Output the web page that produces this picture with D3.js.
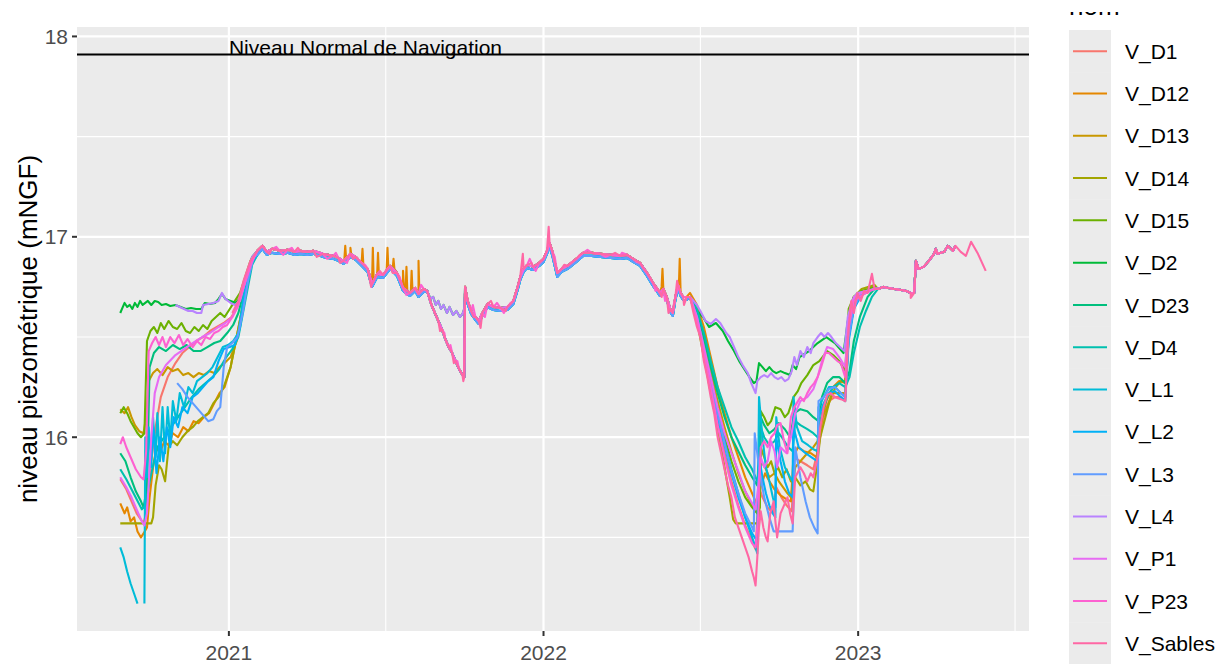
<!DOCTYPE html>
<html>
<head>
<meta charset="utf-8">
<script src="https://cdn.jsdelivr.net/npm/d3@7"></script>
<style>
  body { margin: 0; background: #fff; }
  svg { display: block; font-family: "Liberation Sans", Arial, sans-serif; }
</style>
</head>
<body>
<div id="chart"></div>
<script>
// noms et couleurs (palette ggplot par defaut)
const noms = ["V_D1","V_D12","V_D13","V_D14","V_D15","V_D2","V_D23","V_D4","V_L1","V_L2","V_L3","V_L4","V_P1","V_P23","V_Sables"];
const couleurs = ["#F8766D","#E58700","#C99800","#A3A500","#6BB100","#00BA38","#00BF7D","#00C0AF","#00BCD8","#00B0F6","#619CFF","#B983FF","#E76BF3","#FD61D1","#FF67A4"];

const niveauNavigation = 17.91;
const yTicks = [16, 17, 18];
const yMinor = [15.5, 16.5, 17.5];
const xTicks = ["2021-01-01","2022-01-01","2023-01-01"];
const xMinor = ["2021-07-02","2022-07-02","2023-07-02"];

// ---- debut 2020 (par piezometre)
const d1_2020 = [["2020-08-28",15.79],["2020-09-04",15.74],["2020-09-10",15.68],["2020-09-16",15.62],["2020-09-24",15.57],["2020-09-27",15.62],["2020-10-02",15.85],["2020-10-08",16.05],["2020-10-14",16.2],["2020-10-22",16.3],["2020-10-31",16.37],["2020-11-08",16.42],["2020-11-16",16.45],["2020-11-24",16.48],["2020-12-02",16.5],["2020-12-10",16.53],["2020-12-18",16.55],["2020-12-26",16.57],["2021-01-04",16.6],["2021-01-12",16.66],["2021-01-20",16.78],["2021-01-26",16.86]];
const d12_2020 = [["2020-08-28",15.67],["2020-09-02",15.62],["2020-09-05",15.65],["2020-09-09",15.58],["2020-09-13",15.6],["2020-09-17",15.53],["2020-09-21",15.5],["2020-09-24",15.52],["2020-09-28",15.55],["2020-10-01",15.7],["2020-10-05",15.85],["2020-10-09",15.95],["2020-10-13",15.92],["2020-10-18",15.98],["2020-10-23",15.96],["2020-10-28",16.02],["2020-11-03",16.0],["2020-11-09",16.05],["2020-11-15",16.03],["2020-11-21",16.08],["2020-11-27",16.07],["2020-12-03",16.1],["2020-12-09",16.12],["2020-12-15",16.17],["2020-12-21",16.22],["2020-12-27",16.25],["2021-01-03",16.35],["2021-01-10",16.5],["2021-01-18",16.68],["2021-01-26",16.86]];
const d13_2020 = [["2020-08-28",16.14],["2020-09-02",16.12],["2020-09-06",16.15],["2020-09-10",16.1],["2020-09-14",16.06],["2020-09-19",16.03],["2020-09-24",16.02],["2020-09-27",16.1],["2020-09-30",16.28],["2020-10-05",16.32],["2020-10-10",16.34],["2020-10-16",16.31],["2020-10-22",16.35],["2020-10-28",16.33],["2020-11-03",16.34],["2020-11-09",16.31],["2020-11-15",16.32],["2020-11-21",16.3],["2020-11-27",16.32],["2020-12-03",16.31],["2020-12-09",16.33],["2020-12-15",16.32],["2020-12-21",16.35],["2020-12-27",16.37],["2021-01-03",16.4],["2021-01-10",16.48],["2021-01-17",16.65],["2021-01-26",16.86]];
const d14_2020 = [["2020-08-28",15.57],["2020-10-03",15.57],["2020-10-05",15.6],["2020-10-08",15.76],["2020-10-12",15.86],["2020-10-15",15.84],["2020-10-19",15.78],["2020-10-23",15.95],["2020-10-28",15.98],["2020-11-02",15.96],["2020-11-08",16.0],["2020-11-14",16.03],["2020-11-20",16.05],["2020-11-26",16.08],["2020-12-02",16.1],["2020-12-08",16.12],["2020-12-14",16.17],["2020-12-20",16.2],["2020-12-26",16.25],["2021-01-03",16.35],["2021-01-10",16.5],["2021-01-17",16.65],["2021-01-26",16.85]];
const d15_2020 = [["2020-08-28",16.12],["2020-09-01",16.15],["2020-09-05",16.12],["2020-09-09",16.08],["2020-09-13",16.05],["2020-09-17",16.02],["2020-09-21",16.0],["2020-09-25",16.02],["2020-09-28",16.48],["2020-10-02",16.53],["2020-10-06",16.55],["2020-10-10",16.52],["2020-10-14",16.57],["2020-10-18",16.54],["2020-10-23",16.58],["2020-10-28",16.55],["2020-11-02",16.54],["2020-11-07",16.57],["2020-11-12",16.53],["2020-11-17",16.52],["2020-11-22",16.55],["2020-11-27",16.53],["2020-12-02",16.56],["2020-12-07",16.54],["2020-12-12",16.58],["2020-12-17",16.6],["2020-12-22",16.62],["2020-12-27",16.6],["2021-01-02",16.64],["2021-01-08",16.68],["2021-01-14",16.72],["2021-01-20",16.8],["2021-01-26",16.88]];
const d2_2020 = [["2020-08-28",16.62],["2020-08-30",16.64],["2020-09-02",16.67],["2020-09-05",16.65],["2020-09-08",16.66],["2020-09-11",16.64],["2020-09-14",16.67],["2020-09-17",16.65],["2020-09-20",16.68],["2020-09-23",16.66],["2020-09-26",16.67],["2020-09-29",16.68],["2020-10-03",16.66],["2020-10-07",16.68],["2020-10-11",16.675],["2020-10-15",16.66],["2020-10-20",16.665],["2020-10-25",16.655],["2020-10-31",16.66],["2020-11-06",16.65],["2020-11-12",16.64],["2020-11-18",16.645],["2020-11-24",16.64],["2020-11-30",16.64],["2020-12-04",16.67],["2020-12-10",16.665],["2020-12-16",16.67],["2020-12-20",16.69],["2020-12-24",16.715],["2020-12-28",16.69],["2021-01-03",16.68],["2021-01-09",16.67],["2021-01-15",16.7],["2021-01-21",16.8],["2021-01-28",16.9]];
const d23_2020 = [["2020-08-28",15.92],["2020-09-03",15.88],["2020-09-09",15.8],["2020-09-15",15.73],["2020-09-21",15.68],["2020-09-24",15.65],["2020-09-28",15.75],["2020-10-01",16.35],["2020-10-06",16.42],["2020-10-12",16.45],["2020-10-20",16.43],["2020-10-28",16.46],["2020-11-05",16.44],["2020-11-13",16.46],["2020-11-21",16.43],["2020-11-29",16.43],["2020-12-07",16.45],["2020-12-15",16.47],["2020-12-22",16.48],["2020-12-30",16.52],["2021-01-06",16.56],["2021-01-12",16.62],["2021-01-18",16.72],["2021-01-26",16.86]];
const d4_2020 = [["2020-08-28",15.84],["2020-09-04",15.79],["2020-09-10",15.74],["2020-09-16",15.69],["2020-09-22",15.64],["2020-09-26",15.66],["2020-10-02",15.8],["2020-10-10",15.95],["2020-10-18",16.0],["2020-10-26",16.05],["2020-11-03",16.1],["2020-11-11",16.15],["2020-11-19",16.2],["2020-11-27",16.24],["2020-12-05",16.27],["2020-12-13",16.3],["2020-12-21",16.34],["2020-12-29",16.4],["2021-01-05",16.44],["2021-01-12",16.5],["2021-01-20",16.68],["2021-01-28",16.86]];
const l1_2020 = [["2020-08-28",15.45],["2020-09-01",15.4],["2020-09-05",15.33],["2020-09-09",15.27],["2020-09-13",15.22],["2020-09-17",15.17],["2020-09-21",null],["2020-09-25",15.17],["2020-09-26",16.0],["2020-09-28",15.8],["2020-09-30",16.05],["2020-10-03",15.85],["2020-10-05",16.1],["2020-10-08",15.9],["2020-10-10",16.12],["2020-10-13",15.88],["2020-10-16",16.15],["2020-10-19",15.92],["2020-10-22",16.15],["2020-10-25",15.98],["2020-10-28",16.18],["2020-11-01",16.08],["2020-11-05",16.22],["2020-11-10",16.15],["2020-11-15",16.25],["2020-11-20",16.22],["2020-11-25",16.28],["2020-12-01",16.3],["2020-12-07",16.32],["2020-12-13",16.35],["2020-12-19",16.4],["2020-12-25",16.45],["2020-12-31",16.46],["2021-01-06",16.48],["2021-01-12",16.52],["2021-01-18",16.7],["2021-01-26",16.86]];
const l2_2020 = [["2020-10-02",15.85],["2020-10-05",16.05],["2020-10-09",15.82],["2020-10-13",16.0],["2020-10-17",15.88],["2020-10-21",16.05],["2020-10-25",15.95],["2020-10-29",16.1],["2020-11-03",16.05],["2020-11-08",16.15],["2020-11-14",16.12],["2020-11-20",16.2],["2020-11-26",16.22],["2020-12-02",16.25],["2020-12-08",16.28],["2020-12-14",16.3],["2020-12-20",16.38],["2020-12-26",16.44],["2021-01-02",16.45],["2021-01-08",16.46],["2021-01-14",16.55],["2021-01-20",16.72],["2021-01-28",16.88]];
const l3_2020 = [["2020-11-02",16.27],["2020-11-08",16.24],["2020-11-14",16.2],["2020-11-20",16.17],["2020-11-26",16.14],["2020-12-02",16.11],["2020-12-08",16.08],["2020-12-14",16.09],["2020-12-18",16.13],["2020-12-22",16.15],["2020-12-26",16.35],["2020-12-30",16.45],["2021-01-05",16.47],["2021-01-11",16.5],["2021-01-17",16.62],["2021-01-24",16.8],["2021-01-30",16.9]];
const l4_2020 = [["2020-10-31",16.66],["2020-11-05",16.65],["2020-11-10",16.64],["2020-11-15",16.63],["2020-11-20",16.63],["2020-11-25",16.62],["2020-11-30",16.62],["2020-12-02",16.66],["2020-12-08",16.665],["2020-12-14",16.67],["2020-12-20",16.68],["2020-12-24",16.72],["2020-12-28",16.69],["2021-01-03",16.67],["2021-01-08",16.66],["2021-01-14",16.68],["2021-01-20",16.78],["2021-01-28",16.9]];
const p1_2020 = [["2020-08-28",15.8],["2020-09-04",15.75],["2020-09-10",15.7],["2020-09-16",15.64],["2020-09-22",15.58],["2020-09-25",15.56],["2020-09-28",15.62],["2020-10-03",16.0],["2020-10-07",16.22],["2020-10-12",16.3],["2020-10-20",16.36],["2020-10-31",16.41],["2020-11-10",16.44],["2020-11-20",16.47],["2020-12-01",16.5],["2020-12-10",16.52],["2020-12-20",16.55],["2020-12-28",16.57],["2021-01-05",16.6],["2021-01-12",16.66],["2021-01-20",16.78],["2021-01-26",16.86]];
const p23_2020 = [["2020-08-28",15.965],["2020-08-31",16.0],["2020-09-04",15.95],["2020-09-09",15.9],["2020-09-15",15.84],["2020-09-21",15.8],["2020-09-24",15.79],["2020-09-27",15.93],["2020-09-30",16.43],["2020-10-04",16.47],["2020-10-08",16.5],["2020-10-12",16.46],["2020-10-16",16.5],["2020-10-20",16.45],["2020-10-25",16.5],["2020-10-30",16.47],["2020-11-04",16.51],["2020-11-09",16.46],["2020-11-14",16.49],["2020-11-20",16.45],["2020-11-25",16.48],["2020-11-30",16.46],["2020-12-05",16.5],["2020-12-10",16.49],["2020-12-15",16.52],["2020-12-20",16.53],["2020-12-25",16.55],["2020-12-30",16.56],["2021-01-05",16.6],["2021-01-11",16.65],["2021-01-16",16.72],["2021-01-22",16.8],["2021-01-28",16.88]];
const sables_2020 = [["2021-01-05",16.62],["2021-01-12",16.68],["2021-01-18",16.78],["2021-01-26",16.88]];

// ---- tronc commun (bord haut du faisceau et bord bas pour les L / D4 / D23)
const commun2021 = [["2021-02-03",16.93],["2021-02-09",16.955],["2021-02-14",16.925],["2021-02-20",16.94],["2021-03-01",16.93],["2021-03-10",16.935],["2021-03-18",16.925],["2021-03-25",16.93],["2021-04-02",16.925],["2021-04-09",16.93],["2021-04-20",16.915],["2021-05-02",16.905],["2021-05-08",16.895],["2021-05-14",16.88],["2021-05-22",16.915],["2021-05-28",16.9],["2021-06-04",16.87],["2021-06-11",16.84],["2021-06-16",16.765],["2021-06-22",16.815],["2021-06-29",16.81],["2021-07-07",16.855],["2021-07-15",16.82],["2021-07-22",16.745],["2021-07-30",16.72],["2021-08-05",16.745],["2021-08-09",16.715],["2021-08-15",16.74]];
const commun2021Bas = [["2021-02-03",16.91],["2021-02-09",16.94],["2021-02-14",16.91],["2021-02-20",16.92],["2021-03-01",16.915],["2021-03-10",16.92],["2021-03-18",16.91],["2021-03-25",16.915],["2021-04-02",16.91],["2021-04-09",16.915],["2021-04-20",16.9],["2021-05-02",16.89],["2021-05-08",16.88],["2021-05-14",16.865],["2021-05-22",16.9],["2021-05-28",16.885],["2021-06-04",16.855],["2021-06-11",16.825],["2021-06-16",16.75],["2021-06-22",16.8],["2021-06-29",16.795],["2021-07-07",16.84],["2021-07-15",16.805],["2021-07-22",16.73],["2021-07-30",16.705],["2021-08-05",16.73],["2021-08-09",16.7],["2021-08-15",16.725]];
const creux2021 = [["2021-08-19",16.73],["2021-08-24",16.66],["2021-08-28",16.62],["2021-09-01",16.58],["2021-09-05",16.54],["2021-09-09",16.49],["2021-09-13",16.45],["2021-09-17",16.42],["2021-09-21",16.38],["2021-09-25",16.34],["2021-09-29",16.31],["2021-10-01",16.3]];
const creux2021Haut = [["2021-08-19",16.73],["2021-08-23",16.69],["2021-08-26",16.7],["2021-08-29",16.66],["2021-09-01",16.68],["2021-09-04",16.64],["2021-09-07",16.66],["2021-09-11",16.62],["2021-09-14",16.65],["2021-09-18",16.61],["2021-09-22",16.63],["2021-09-26",16.6],["2021-09-29",16.615],["2021-10-01",16.64]];
const commun2022 = [["2021-10-02",16.75],["2021-10-05",16.68],["2021-10-09",16.63],["2021-10-14",16.6],["2021-10-18",16.58],["2021-10-22",16.62],["2021-10-28",16.665],["2021-11-04",16.65],["2021-11-12",16.645],["2021-11-20",16.65],["2021-11-27",16.68],["2021-12-02",16.75],["2021-12-05",16.8],["2021-12-09",16.84],["2021-12-13",16.86],["2021-12-20",16.85],["2021-12-27",16.87],["2022-01-01",16.89],["2022-01-05",16.93],["2022-01-08",16.97],["2022-01-11",16.93],["2022-01-17",16.82],["2022-01-22",16.84],["2022-01-29",16.855],["2022-02-08",16.89],["2022-02-16",16.92],["2022-02-26",16.92],["2022-03-08",16.915],["2022-03-20",16.91],["2022-03-31",16.905],["2022-04-08",16.91],["2022-04-15",16.89],["2022-04-23",16.87],["2022-05-01",16.82],["2022-05-08",16.77],["2022-05-13",16.74],["2022-05-16",16.72],["2022-05-20",16.74],["2022-05-24",16.7],["2022-05-28",16.64],["2022-05-31",16.62],["2022-06-03",16.7],["2022-06-06",16.76],["2022-06-09",16.72],["2022-06-12",16.7],["2022-06-16",16.7]];
const commun2022Bas = [["2021-10-02",16.73],["2021-10-05",16.665],["2021-10-09",16.615],["2021-10-14",16.585],["2021-10-18",16.565],["2021-10-22",16.605],["2021-10-28",16.65],["2021-11-04",16.635],["2021-11-12",16.63],["2021-11-20",16.635],["2021-11-27",16.665],["2021-12-02",16.735],["2021-12-05",16.785],["2021-12-09",16.825],["2021-12-13",16.845],["2021-12-20",16.835],["2021-12-27",16.855],["2022-01-01",16.875],["2022-01-05",16.915],["2022-01-08",16.95],["2022-01-11",16.91],["2022-01-17",16.8],["2022-01-22",16.825],["2022-01-29",16.84],["2022-02-08",16.875],["2022-02-16",16.905],["2022-02-26",16.905],["2022-03-08",16.9],["2022-03-20",16.895],["2022-03-31",16.89],["2022-04-08",16.895],["2022-04-15",16.875],["2022-04-23",16.855],["2022-05-01",16.805],["2022-05-08",16.755],["2022-05-13",16.725],["2022-05-16",16.705],["2022-05-20",16.725],["2022-05-24",16.685],["2022-05-28",16.625],["2022-05-31",16.605],["2022-06-03",16.685],["2022-06-06",16.745],["2022-06-09",16.705],["2022-06-12",16.685],["2022-06-16",16.685]];
const commun2023 = [["2023-01-24",16.74],["2023-01-30",16.75],["2023-02-05",16.745],["2023-02-12",16.74],["2023-02-20",16.735],["2023-02-26",16.73],["2023-03-03",16.72],["2023-03-07",16.72],["2023-03-09",16.88],["2023-03-12",16.84],["2023-03-18",16.85],["2023-03-24",16.88],["2023-03-30",16.915],["2023-04-01",16.94],["2023-04-03",16.915],["2023-04-11",16.925],["2023-04-15",16.955],["2023-04-21",16.93],["2023-04-24",16.955]];

// ---- pics V_D12, bruit des courbes roses
const d12_pics = [["2021-05-15",16.89],["2021-05-16",16.955],["2021-05-17",16.89],["2021-05-21",16.91],["2021-05-22",16.945],["2021-05-23",16.91],["2021-06-05",16.94],["2021-06-06",16.86],["2021-06-17",16.945],["2021-06-18",16.78],["2021-06-23",16.92],["2021-06-24",16.81],["2021-07-03",16.83],["2021-07-04",16.945],["2021-07-05",16.84],["2021-07-10",16.84],["2021-07-11",16.89],["2021-07-12",16.84],["2021-07-21",16.75],["2021-07-22",16.83],["2021-07-23",16.75],["2021-07-25",16.73],["2021-07-26",16.85],["2021-07-27",16.73],["2021-07-31",16.72],["2021-08-01",16.83],["2021-08-02",16.73],["2021-08-08",16.72],["2021-08-09",16.88],["2021-08-10",16.72],["2022-05-18",16.75],["2022-05-19",16.84],["2022-05-20",16.74],["2022-06-07",16.75],["2022-06-08",16.89],["2022-06-09",16.73]];
const p23_bruit = [["2021-02-25",16.95],["2021-03-05",16.91],["2021-03-15",16.945],["2021-04-25",16.89],["2021-05-05",16.92],["2021-05-18",16.87],["2021-06-08",16.86],["2021-06-19",16.79],["2021-07-02",16.83],["2021-07-18",16.8],["2021-07-26",16.71],["2021-08-12",16.76],["2021-09-08",16.52],["2021-09-15",16.46],["2021-09-23",16.38],["2021-10-11",16.66],["2021-10-25",16.6],["2021-11-08",16.67],["2021-11-16",16.62],["2021-11-24",16.67],["2021-12-16",16.89],["2021-12-23",16.83],["2022-01-14",16.9],["2022-02-02",16.87],["2022-02-21",16.935],["2022-03-14",16.9],["2022-04-02",16.92],["2022-04-19",16.875],["2022-05-04",16.8],["2022-05-11",16.73],["2022-05-22",16.68],["2022-06-01",16.66]];
const sables_extra = [["2021-02-17",16.915],["2021-03-22",16.945],["2021-04-13",16.9],["2021-05-10",16.87],["2021-05-25",16.89],["2021-06-15",16.75],["2021-06-25",16.83],["2021-07-10",16.82],["2021-08-02",16.73],["2021-09-03",16.53],["2021-09-19",16.37],["2021-09-30",16.28],["2021-10-12",16.6],["2021-10-20",16.545],["2021-11-01",16.68],["2021-11-18",16.63],["2021-12-08",16.915],["2021-12-18",16.87],["2022-01-07",17.05],["2022-01-25",16.86],["2022-02-12",16.91],["2022-03-25",16.92],["2022-04-27",16.84],["2022-05-18",16.7],["2022-05-26",16.62],["2022-06-05",16.78],["2022-06-13",16.66],["2023-01-17",16.815],["2023-03-03",16.695]];
const sables_2023 = [["2023-04-30",16.925],["2023-05-06",16.905],["2023-05-12",16.975],["2023-05-20",16.915],["2023-05-29",16.83]];

// ---- secheresse 2022
const d1_2022 = [["2022-06-20",16.7],["2022-06-28",16.58],["2022-07-06",16.42],["2022-07-14",16.24],["2022-07-22",16.07],["2022-07-30",15.92],["2022-08-07",15.78],["2022-08-15",15.66],["2022-08-23",15.56],["2022-08-31",15.48],["2022-09-04",15.44],["2022-09-08",15.75],["2022-09-12",15.7],["2022-09-18",15.65],["2022-09-24",15.62],["2022-09-28",15.75],["2022-10-04",15.7],["2022-10-10",15.66],["2022-10-16",15.63],["2022-10-19",15.9],["2022-10-26",15.88],["2022-11-03",15.86],["2022-11-10",15.84],["2022-11-16",15.95],["2022-11-22",16.1],["2022-11-28",16.18],["2022-12-05",16.2],["2022-12-12",16.2],["2022-12-17",16.18],["2022-12-21",16.52],["2022-12-27",16.66],["2023-01-05",16.72],["2023-01-20",16.74]];
const d12_2022 = [["2022-06-20",16.72],["2022-06-28",16.66],["2022-07-06",16.55],["2022-07-14",16.4],["2022-07-22",16.25],["2022-07-30",16.12],["2022-08-07",16.0],["2022-08-15",15.9],["2022-08-23",15.8],["2022-08-31",15.72],["2022-09-06",15.66],["2022-09-10",15.75],["2022-09-15",15.82],["2022-09-20",15.78],["2022-09-26",15.74],["2022-10-03",15.71],["2022-10-10",15.69],["2022-10-15",15.68],["2022-10-18",15.9],["2022-10-23",15.95],["2022-10-30",15.93],["2022-11-07",15.92],["2022-11-14",15.9],["2022-11-18",16.05],["2022-11-25",16.18],["2022-12-03",16.25],["2022-12-10",16.28],["2022-12-17",16.27],["2022-12-21",16.55],["2022-12-27",16.68],["2023-01-05",16.72],["2023-01-20",16.75]];
const d13_2022 = [["2022-06-20",16.7],["2022-06-28",16.62],["2022-07-06",16.48],["2022-07-14",16.33],["2022-07-22",16.18],["2022-07-30",16.05],["2022-08-07",15.93],["2022-08-15",15.82],["2022-08-23",15.73],["2022-08-31",15.66],["2022-09-06",15.62],["2022-09-10",15.88],["2022-09-15",15.85],["2022-09-20",15.8],["2022-09-26",15.82],["2022-10-01",15.78],["2022-10-06",15.75],["2022-10-11",15.72],["2022-10-15",15.7],["2022-10-20",15.85],["2022-10-26",15.88],["2022-11-03",15.92],["2022-11-10",15.95],["2022-11-15",15.98],["2022-11-20",16.1],["2022-11-26",16.15],["2022-12-03",16.22],["2022-12-10",16.22],["2022-12-17",16.22],["2022-12-21",16.5],["2022-12-27",16.65],["2023-01-05",16.72],["2023-01-20",16.75]];
const d14_2022 = [["2022-06-20",16.7],["2022-06-28",16.58],["2022-07-06",16.4],["2022-07-14",16.22],["2022-07-22",16.05],["2022-07-30",15.85],["2022-08-05",15.7],["2022-08-09",15.59],["2022-08-12",15.57],["2022-09-08",15.57],["2022-09-10",15.95],["2022-09-14",15.9],["2022-09-18",15.85],["2022-09-22",15.88],["2022-09-26",15.82],["2022-09-30",15.85],["2022-10-05",15.8],["2022-10-10",15.84],["2022-10-15",15.78],["2022-10-20",15.8],["2022-10-26",15.76],["2022-11-01",15.78],["2022-11-06",15.74],["2022-11-10",15.73],["2022-11-14",15.85],["2022-11-18",16.0],["2022-11-24",16.1],["2022-11-30",16.2],["2022-12-06",16.25],["2022-12-12",16.28],["2022-12-17",16.28],["2022-12-21",16.6],["2022-12-27",16.7],["2023-01-05",16.74],["2023-01-20",16.76]];
const d15_2022 = [["2022-06-20",16.7],["2022-06-28",16.6],["2022-07-06",16.45],["2022-07-14",16.3],["2022-07-22",16.15],["2022-07-30",16.0],["2022-08-07",15.88],["2022-08-15",15.78],["2022-08-23",15.7],["2022-08-31",15.65],["2022-09-06",15.62],["2022-09-09",15.65],["2022-09-10",16.13],["2022-09-14",16.1],["2022-09-18",16.06],["2022-09-22",16.08],["2022-09-27",16.15],["2022-10-03",16.14],["2022-10-08",16.1],["2022-10-12",16.12],["2022-10-18",16.2],["2022-10-23",16.23],["2022-10-27",16.27],["2022-11-03",16.31],["2022-11-10",16.36],["2022-11-17",16.38],["2022-11-26",16.43],["2022-12-03",16.41],["2022-12-10",16.38],["2022-12-17",16.33],["2022-12-21",16.64],["2022-12-27",16.7],["2023-01-05",16.73],["2023-01-20",16.75]];
const d2_2022 = [["2022-06-20",16.69],["2022-06-28",16.63],["2022-07-05",16.6],["2022-07-12",16.55],["2022-07-20",16.57],["2022-07-28",16.53],["2022-08-03",16.48],["2022-08-10",16.43],["2022-08-16",16.38],["2022-08-22",16.34],["2022-08-28",16.3],["2022-09-02",16.27],["2022-09-05",16.28],["2022-09-08",16.37],["2022-09-12",16.35],["2022-09-16",16.33],["2022-09-20",16.35],["2022-09-24",16.33],["2022-09-28",16.32],["2022-10-03",16.33],["2022-10-08",16.32],["2022-10-14",16.31],["2022-10-17",16.36],["2022-10-21",16.34],["2022-10-25",16.4],["2022-11-05",16.43],["2022-11-15",16.47],["2022-11-25",16.5],["2022-12-05",16.47],["2022-12-15",16.42],["2022-12-20",16.58],["2022-12-27",16.7],["2023-01-10",16.73],["2023-01-20",16.74]];
const d23_2022 = [["2022-06-20",16.7],["2022-06-28",16.63],["2022-07-06",16.5],["2022-07-14",16.35],["2022-07-22",16.22],["2022-07-30",16.1],["2022-08-07",16.0],["2022-08-15",15.93],["2022-08-23",15.86],["2022-08-31",15.8],["2022-09-06",15.76],["2022-09-10",16.1],["2022-09-14",16.06],["2022-09-20",16.02],["2022-09-26",16.04],["2022-10-01",16.07],["2022-10-08",16.04],["2022-10-14",16.0],["2022-10-19",16.12],["2022-10-26",16.14],["2022-11-03",16.13],["2022-11-10",16.1],["2022-11-16",16.08],["2022-11-20",16.2],["2022-11-26",16.27],["2022-12-03",16.3],["2022-12-10",16.3],["2022-12-17",16.27],["2022-12-22",16.33],["2022-12-27",16.48],["2023-01-03",16.6],["2023-01-12",16.7],["2023-01-20",16.74]];
const d4_2022 = [["2022-06-20",16.7],["2022-06-28",16.64],["2022-07-06",16.52],["2022-07-14",16.38],["2022-07-22",16.25],["2022-07-30",16.15],["2022-08-07",16.05],["2022-08-15",15.98],["2022-08-23",15.9],["2022-08-31",15.84],["2022-09-06",15.78],["2022-09-09",15.76],["2022-09-10",16.05],["2022-09-14",16.0],["2022-09-20",15.96],["2022-09-26",15.98],["2022-10-01",16.02],["2022-10-06",15.99],["2022-10-12",15.95],["2022-10-17",15.93],["2022-10-20",16.08],["2022-10-26",16.06],["2022-11-03",16.04],["2022-11-10",16.02],["2022-11-15",16.0],["2022-11-20",16.12],["2022-11-26",16.2],["2022-12-03",16.25],["2022-12-10",16.27],["2022-12-17",16.25],["2022-12-22",16.3],["2022-12-27",16.42],["2023-01-03",16.55],["2023-01-10",16.63],["2023-01-17",16.7],["2023-01-24",16.74]];
const l1_2022 = [["2022-06-20",16.7],["2022-06-28",16.6],["2022-07-06",16.45],["2022-07-14",16.28],["2022-07-22",16.12],["2022-07-30",15.98],["2022-08-07",15.84],["2022-08-15",15.72],["2022-08-23",15.6],["2022-08-31",15.5],["2022-09-04",15.45],["2022-09-06",15.42],["2022-09-08",16.2],["2022-09-12",16.0],["2022-09-16",15.85],["2022-09-20",15.78],["2022-09-24",15.7],["2022-09-27",15.65],["2022-09-28",16.1],["2022-10-02",15.95],["2022-10-08",15.85],["2022-10-14",15.8],["2022-10-17",15.78],["2022-10-18",16.2],["2022-10-22",16.05],["2022-10-28",15.98],["2022-11-04",15.96],["2022-11-10",15.94],["2022-11-15",15.93],["2022-11-16",16.15],["2022-11-22",16.2],["2022-11-28",16.25],["2022-12-05",16.25],["2022-12-12",16.22],["2022-12-17",16.2],["2022-12-21",16.5],["2022-12-27",16.65],["2023-01-05",16.72],["2023-01-20",16.74]];
const l2_2022 = [["2022-06-20",16.7],["2022-06-28",16.59],["2022-07-06",16.43],["2022-07-14",16.27],["2022-07-22",16.1],["2022-07-30",15.96],["2022-08-07",15.82],["2022-08-15",15.7],["2022-08-23",15.6],["2022-08-31",15.52],["2022-09-06",15.48],["2022-09-08",15.9],["2022-09-12",15.8],["2022-09-16",15.72],["2022-09-20",15.66],["2022-09-24",15.62],["2022-09-27",15.6],["2022-09-28",16.0],["2022-10-03",15.88],["2022-10-08",15.78],["2022-10-13",15.72],["2022-10-17",15.7],["2022-10-18",16.05],["2022-10-24",15.95],["2022-11-01",15.92],["2022-11-08",15.9],["2022-11-15",15.88],["2022-11-16",16.1],["2022-11-22",16.17],["2022-11-28",16.22],["2022-12-05",16.23],["2022-12-12",16.2],["2022-12-17",16.18],["2022-12-21",16.48],["2022-12-27",16.64],["2023-01-05",16.71],["2023-01-20",16.74]];
const l3_2022 = [["2022-06-20",16.7],["2022-06-28",16.6],["2022-07-06",16.44],["2022-07-14",16.28],["2022-07-22",16.12],["2022-07-30",15.97],["2022-08-07",15.83],["2022-08-15",15.72],["2022-08-23",15.62],["2022-08-31",15.55],["2022-09-02",15.53],["2022-09-03",16.02],["2022-09-08",15.85],["2022-09-14",15.7],["2022-09-20",15.6],["2022-09-25",15.53],["2022-10-17",15.53],["2022-10-20",15.95],["2022-10-26",15.8],["2022-11-01",15.68],["2022-11-06",15.6],["2022-11-11",15.55],["2022-11-15",15.52],["2022-11-16",16.18],["2022-11-22",16.2],["2022-11-28",16.24],["2022-12-05",16.25],["2022-12-12",16.22],["2022-12-17",16.2],["2022-12-21",16.5],["2022-12-27",16.65],["2023-01-05",16.72],["2023-01-20",16.74]];
const l4_2022 = [["2022-06-20",16.7],["2022-06-28",16.66],["2022-07-02",16.63],["2022-07-08",16.58],["2022-07-14",16.565],["2022-07-20",16.59],["2022-07-25",16.57],["2022-08-01",16.52],["2022-08-05",16.5],["2022-08-10",16.45],["2022-08-15",16.4],["2022-08-20",16.36],["2022-08-26",16.32],["2022-08-30",16.27],["2022-09-02",16.24],["2022-09-04",16.22],["2022-09-06",16.28],["2022-09-10",16.3],["2022-09-14",16.31],["2022-09-18",16.3],["2022-09-22",16.32],["2022-09-26",16.3],["2022-09-30",16.29],["2022-10-04",16.3],["2022-10-08",16.28],["2022-10-12",16.29],["2022-10-16",16.33],["2022-10-19",16.4],["2022-10-22",16.36],["2022-10-26",16.43],["2022-10-30",16.4],["2022-11-03",16.45],["2022-11-07",16.42],["2022-11-10",16.47],["2022-11-15",16.5],["2022-11-19",16.52],["2022-11-23",16.5],["2022-11-27",16.52],["2022-12-01",16.5],["2022-12-06",16.47],["2022-12-11",16.45],["2022-12-16",16.43],["2022-12-20",16.6],["2022-12-25",16.68],["2022-12-31",16.72],["2023-01-10",16.73],["2023-01-20",16.74]];
const p1_2022 = [["2022-06-20",16.7],["2022-06-28",16.6],["2022-07-06",16.45],["2022-07-14",16.3],["2022-07-22",16.15],["2022-07-30",16.02],["2022-08-07",15.92],["2022-08-15",15.83],["2022-08-23",15.73],["2022-08-31",15.67],["2022-09-04",15.64],["2022-09-07",15.75],["2022-09-10",15.9],["2022-09-14",15.85],["2022-09-18",15.88],["2022-09-22",15.98],["2022-09-26",15.93],["2022-09-29",15.85],["2022-10-03",15.95],["2022-10-10",15.92],["2022-10-15",16.0],["2022-10-20",16.12],["2022-10-26",16.18],["2022-11-03",16.2],["2022-11-10",16.24],["2022-11-15",16.3],["2022-11-20",16.38],["2022-11-26",16.45],["2022-12-03",16.44],["2022-12-10",16.4],["2022-12-17",16.35],["2022-12-21",16.58],["2022-12-27",16.7],["2023-01-05",16.72],["2023-01-20",16.74]];
const p23_2022 = [["2022-06-20",16.7],["2022-06-28",16.58],["2022-07-06",16.42],["2022-07-14",16.25],["2022-07-22",16.06],["2022-07-30",15.9],["2022-08-07",15.76],["2022-08-15",15.65],["2022-08-23",15.55],["2022-08-31",15.47],["2022-09-04",15.45],["2022-09-07",15.6],["2022-09-10",15.95],["2022-09-14",15.98],["2022-09-18",15.95],["2022-09-22",16.0],["2022-09-26",16.02],["2022-09-29",16.06],["2022-10-03",16.07],["2022-10-07",15.98],["2022-10-11",15.92],["2022-10-15",16.1],["2022-10-19",16.15],["2022-10-26",16.2],["2022-10-30",16.18],["2022-11-03",16.22],["2022-11-07",16.25],["2022-11-11",16.27],["2022-11-15",16.3],["2022-11-19",16.35],["2022-11-24",16.42],["2022-11-28",16.42],["2022-12-03",16.4],["2022-12-08",16.38],["2022-12-12",16.37],["2022-12-17",16.3],["2022-12-21",16.55],["2022-12-27",16.68],["2023-01-03",16.7],["2023-01-10",16.72],["2023-01-20",16.74]];
const sables_2022 = [["2022-06-20",16.7],["2022-06-24",16.62],["2022-06-28",16.55],["2022-07-02",16.5],["2022-07-06",16.38],["2022-07-10",16.3],["2022-07-14",16.2],["2022-07-18",16.12],["2022-07-22",16.0],["2022-07-26",15.92],["2022-07-30",15.84],["2022-08-03",15.76],["2022-08-07",15.7],["2022-08-11",15.6],["2022-08-15",15.55],["2022-08-19",15.5],["2022-08-23",15.45],["2022-08-27",15.4],["2022-08-31",15.33],["2022-09-02",15.3],["2022-09-04",15.26],["2022-09-06",15.4],["2022-09-08",15.55],["2022-09-10",15.63],["2022-09-13",15.55],["2022-09-16",15.5],["2022-09-18",15.48],["2022-09-21",15.62],["2022-09-25",15.68],["2022-09-27",15.58],["2022-09-29",15.5],["2022-10-03",15.62],["2022-10-07",15.66],["2022-10-11",15.7],["2022-10-14",15.62],["2022-10-17",15.57],["2022-10-20",15.8],["2022-10-26",15.85],["2022-10-30",15.82],["2022-11-03",15.78],["2022-11-07",15.82],["2022-11-10",15.8],["2022-11-15",15.9],["2022-11-18",16.05],["2022-11-22",16.15],["2022-11-26",16.21],["2022-11-30",16.22],["2022-12-05",16.2],["2022-12-12",16.19],["2022-12-17",16.18],["2022-12-21",16.55],["2022-12-24",16.68],["2022-12-27",16.62],["2022-12-31",16.72],["2023-01-04",16.68],["2023-01-08",16.73],["2023-01-12",16.72],["2023-01-20",16.74]];

// assemblage des morceaux par piezometre
const morceaux = [
  [d1_2020, commun2021, creux2021, commun2022, d1_2022, commun2023],
  [d12_2020, commun2021, d12_pics, creux2021, commun2022, d12_2022, commun2023],
  [d13_2020, commun2021, creux2021, commun2022, d13_2022, commun2023],
  [d14_2020, commun2021, creux2021, commun2022, d14_2022, commun2023],
  [d15_2020, commun2021, creux2021, commun2022, d15_2022, commun2023],
  [d2_2020, commun2021, creux2021Haut, commun2022, d2_2022, commun2023],
  [d23_2020, commun2021Bas, creux2021, commun2022Bas, d23_2022, commun2023],
  [d4_2020, commun2021Bas, creux2021, commun2022Bas, d4_2022, commun2023],
  [l1_2020, commun2021Bas, creux2021, commun2022Bas, l1_2022, commun2023],
  [l2_2020, commun2021Bas, creux2021, commun2022Bas, l2_2022, commun2023],
  [l3_2020, commun2021Bas, creux2021, commun2022Bas, l3_2022, commun2023],
  [l4_2020, commun2021, creux2021Haut, commun2022, l4_2022, commun2023],
  [p1_2020, commun2021, creux2021, commun2022, p1_2022, commun2023],
  [p23_2020, commun2021, p23_bruit, creux2021, commun2022, p23_2022, commun2023],
  [sables_2020, commun2021, creux2021, commun2022, sables_2022, commun2023, sables_extra, sables_2023]
];

const parse = d3.timeParse("%Y-%m-%d");

const series = noms.map((nom, i) => {
  const pts = [].concat(...morceaux[i]).map(d => ({date: parse(d[0]), v: d[1]}));
  pts.sort((a, b) => a.date - b.date);
  return {nom: nom, couleur: couleurs[i], pts: pts};
});

// ---- dimensions
const W = 1225, H = 664;
const panel = {left: 77, right: 1029, top: 27, bottom: 631};

const svg = d3.select("#chart").append("svg").attr("width", W).attr("height", H);

// echelles (expansion 5% facon ggplot)
const allPts = series.flatMap(s => s.pts);
const dExt = d3.extent(allPts, d => d.date);
const dPad = (dExt[1] - dExt[0]) * 0.05;
const x = d3.scaleTime()
  .domain([new Date(+dExt[0] - dPad), new Date(+dExt[1] + dPad)])
  .range([panel.left, panel.right]);

const vals = allPts.filter(d => d.v != null).map(d => d.v).concat([niveauNavigation]);
const vMin = d3.min(vals), vMax = d3.max(vals);
const vPad = (vMax - vMin) * 0.05;
const y = d3.scaleLinear().domain([vMin - vPad, vMax + vPad]).range([panel.bottom, panel.top]);

// fond du panneau
svg.append("rect")
  .attr("x", panel.left).attr("y", panel.top)
  .attr("width", panel.right - panel.left).attr("height", panel.bottom - panel.top)
  .attr("fill", "#EBEBEB");

const grid = svg.append("g");
grid.selectAll(".ymin").data(yMinor).enter().append("line")
  .attr("x1", panel.left).attr("x2", panel.right)
  .attr("y1", d => y(d)).attr("y2", d => y(d))
  .attr("stroke", "#fff").attr("stroke-width", 1.1);
grid.selectAll(".xmin").data(xMinor.map(parse)).enter().append("line")
  .attr("y1", panel.top).attr("y2", panel.bottom)
  .attr("x1", d => x(d)).attr("x2", d => x(d))
  .attr("stroke", "#fff").attr("stroke-width", 1.1);
grid.selectAll(".ymaj").data(yTicks).enter().append("line")
  .attr("x1", panel.left).attr("x2", panel.right)
  .attr("y1", d => y(d)).attr("y2", d => y(d))
  .attr("stroke", "#fff").attr("stroke-width", 2.2);
grid.selectAll(".xmaj").data(xTicks.map(parse)).enter().append("line")
  .attr("y1", panel.top).attr("y2", panel.bottom)
  .attr("x1", d => x(d)).attr("x2", d => x(d))
  .attr("stroke", "#fff").attr("stroke-width", 2.2);

// courbes
const line = d3.line()
  .defined(d => d.v != null)
  .x(d => x(d.date))
  .y(d => y(d.v));

svg.append("g").selectAll("path").data(series).enter().append("path")
  .attr("d", d => line(d.pts))
  .attr("fill", "none")
  .attr("stroke", d => d.couleur)
  .attr("stroke-width", 2.1)
  .attr("stroke-linejoin", "round");

// niveau normal de navigation
svg.append("line")
  .attr("x1", panel.left).attr("x2", panel.right)
  .attr("y1", y(niveauNavigation)).attr("y2", y(niveauNavigation))
  .attr("stroke", "#000").attr("stroke-width", 2);
svg.append("text")
  .attr("x", x(parse("2021-01-01")))
  .attr("y", y(niveauNavigation) + 1)
  .attr("font-size", 21).attr("fill", "#000")
  .text("Niveau Normal de Navigation");

// axes
const yAxis = svg.append("g");
yAxis.selectAll("line").data(yTicks).enter().append("line")
  .attr("x1", panel.left - 5).attr("x2", panel.left)
  .attr("y1", d => y(d)).attr("y2", d => y(d))
  .attr("stroke", "#333").attr("stroke-width", 2);
yAxis.selectAll("text").data(yTicks).enter().append("text")
  .attr("x", panel.left - 9).attr("y", d => y(d))
  .attr("dy", "0.36em").attr("text-anchor", "end")
  .attr("font-size", 21).attr("fill", "#4D4D4D")
  .text(d => d);

const xAxis = svg.append("g");
xAxis.selectAll("line").data(xTicks.map(parse)).enter().append("line")
  .attr("y1", panel.bottom).attr("y2", panel.bottom + 5)
  .attr("x1", d => x(d)).attr("x2", d => x(d))
  .attr("stroke", "#333").attr("stroke-width", 2);
xAxis.selectAll("text").data(xTicks.map(parse)).enter().append("text")
  .attr("x", d => x(d)).attr("y", panel.bottom + 29)
  .attr("text-anchor", "middle")
  .attr("font-size", 21).attr("fill", "#4D4D4D")
  .text(d => d3.timeFormat("%Y")(d));

svg.append("text")
  .attr("transform", `translate(28,${(panel.top + panel.bottom) / 2}) rotate(-90)`)
  .attr("text-anchor", "middle").attr("dy", "0.35em")
  .attr("font-size", 26).attr("fill", "#000")
  .text("niveau piezométrique (mNGF)");

// legende (titre coupe par le haut de l'image, comme dans l'original)
const leg = {x: 1069, top: 30, key: 42.3, w: 42};
svg.append("clipPath").attr("id", "cliptitre")
  .append("rect").attr("x", 1060).attr("y", 12).attr("width", 100).attr("height", 4);
svg.append("text")
  .attr("x", leg.x).attr("y", 15)
  .attr("font-size", 26).attr("fill", "#000")
  .attr("clip-path", "url(#cliptitre)")
  .text("nom");

const items = svg.append("g").selectAll("g").data(series).enter().append("g")
  .attr("transform", (d, i) => `translate(${leg.x},${leg.top + i * leg.key})`);
items.append("rect")
  .attr("width", leg.w).attr("height", leg.key + 0.5)
  .attr("fill", "#EBEBEB");
items.append("line")
  .attr("x1", 4).attr("x2", leg.w - 4)
  .attr("y1", leg.key / 2).attr("y2", leg.key / 2)
  .attr("stroke", d => d.couleur).attr("stroke-width", 2);
items.append("text")
  .attr("x", 56).attr("y", leg.key / 2).attr("dy", "0.36em")
  .attr("font-size", 21).attr("fill", "#000")
  .text(d => d.nom);
</script>
</body>
</html>
